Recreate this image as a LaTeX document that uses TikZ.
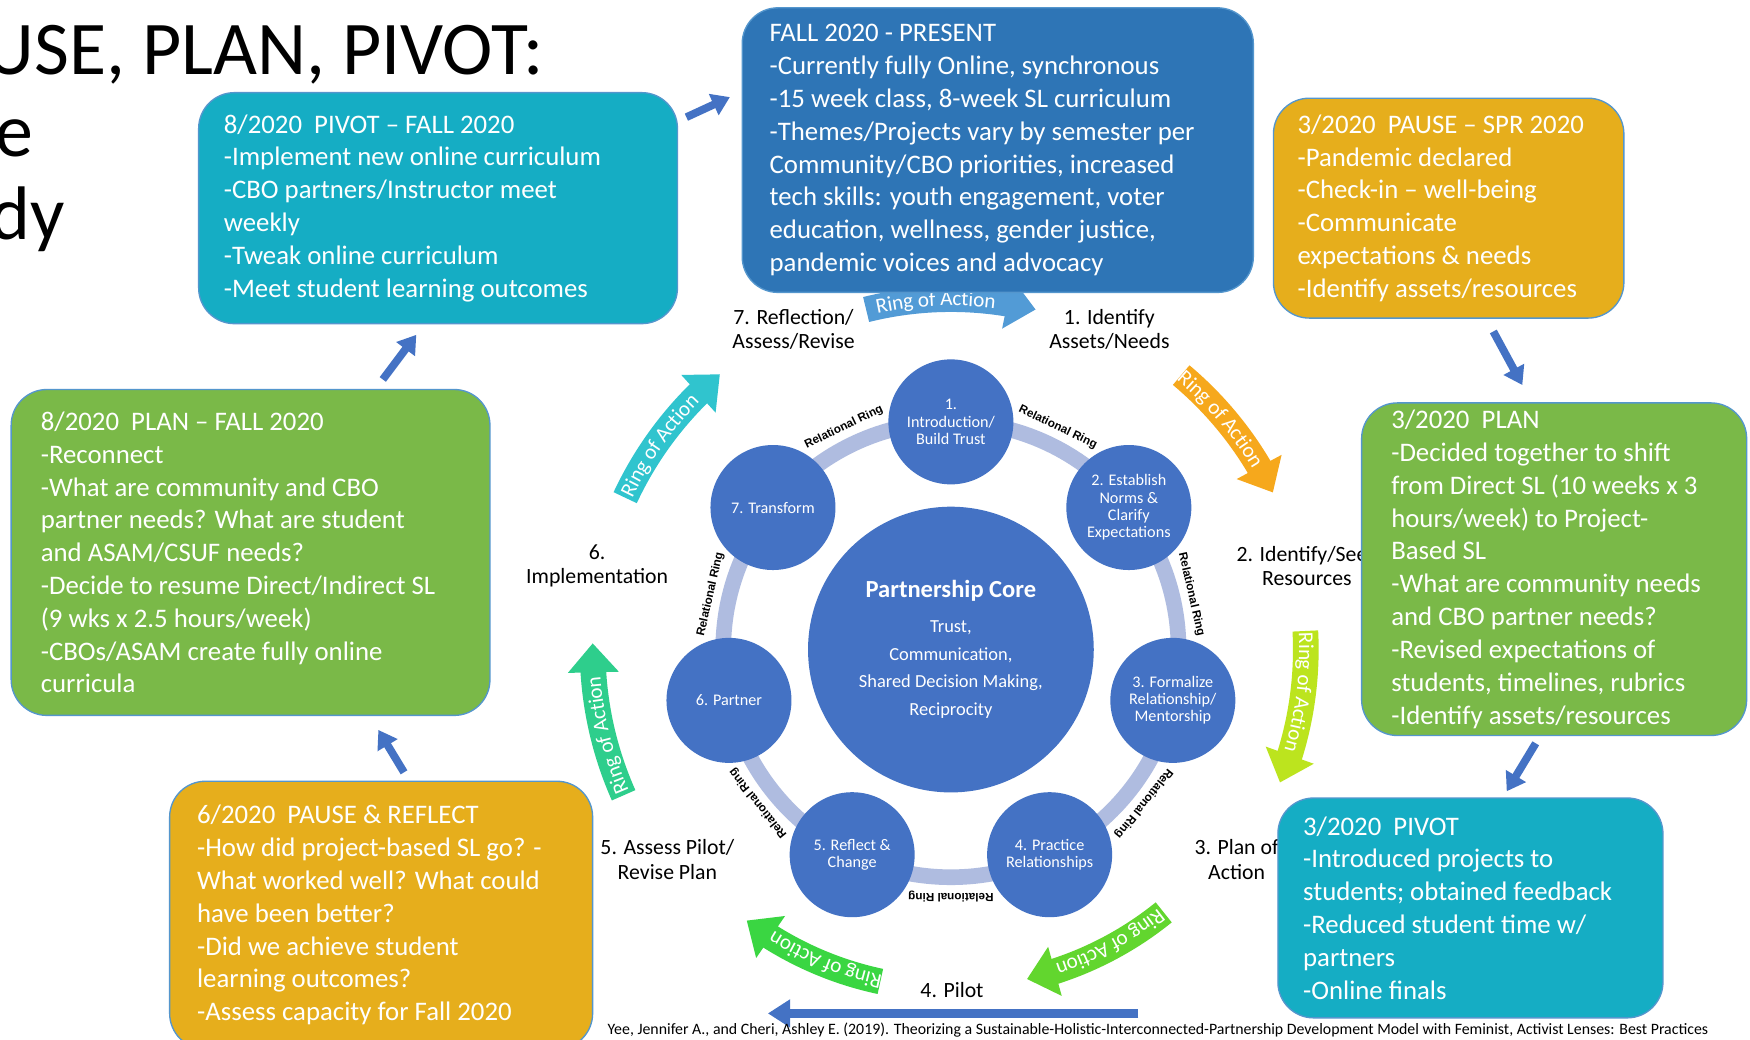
\documentclass[tikz,border=0pt]{standalone}
\usepackage{fontspec}
\setmainfont{Carlito}
\newfontfamily\ringfont{Liberation Sans}
\usetikzlibrary{arrows.meta,bending,positioning,decorations.text}

\definecolor{pivotteal}{RGB}{21,173,196}
\definecolor{presentblue}{RGB}{46,117,182}
\definecolor{pausegold}{RGB}{230,174,28}
\definecolor{plangreen}{RGB}{122,185,72}
\definecolor{boxedge}{RGB}{84,150,205}
\definecolor{coreblue}{RGB}{68,114,196}
\definecolor{ringgray}{RGB}{175,188,224}
\definecolor{actblue}{RGB}{82,155,214}
\definecolor{actorange}{RGB}{246,168,28}
\definecolor{actlime}{RGB}{188,228,30}
\definecolor{actgreen}{RGB}{98,214,46}
\definecolor{actgreenb}{RGB}{58,214,66}
\definecolor{actsea}{RGB}{46,206,140}
\definecolor{actteal}{RGB}{48,196,206}

\newcommand{\actfont}{\color{white}\fontsize{19}{19}\selectfont}
% one curved "Ring of Action" arrow: colour, radius, from angle, to angle
\newcommand{\ringact}[4]{
  \draw[ringarrow,#1] ([shift={(#3:#2)}]core.center) arc[start angle=#3, end angle=#4, radius=#2];
  \path[decorate,decoration={text along path,text align=center,raise=-6pt,
      text={|\actfont|Ring of Action}}]
    ([shift={(#3:#2)}]core.center) arc[start angle=#3, end angle=#4+5, radius=#2];
}

\tikzset{
  card/.style={draw=boxedge,line width=1.2pt,rounded corners=32pt},
  cardtext/.style={text=white,align=left,inner sep=0pt,font=\fontsize{24}{29.4}\selectfont},
  stage/.style={circle,fill=coreblue,minimum size=112pt,inner sep=0pt,text=white,align=center,
    font=\fontsize{14.5}{15.5}\selectfont},
  relring/.style={font=\ringfont\bfseries\fontsize{10.5}{10.5}\selectfont,inner sep=0pt},
  phase/.style={align=center,font=\fontsize{19.5}{22}\selectfont},
  ringband/.style={draw=ringgray,line width=14pt},
  ringarrow/.style={line width=23pt,-{Triangle[width=44pt,length=26pt]}},
  boxarrow/.style={draw=coreblue,line width=7pt,-{Triangle[width=20pt,length=16pt]}},
  titletext/.style={anchor=base east,inner sep=0pt,font=\fontsize{68}{74}\selectfont}
}

\begin{document}
\begin{tikzpicture}[x=1pt,y=1pt]
  \useasboundingbox (0,0) rectangle (1568,-931);
  \fill[white] (0,0) rectangle (1568,-931);

  % title, cut at the left edge
  \node[titletext] (title) at (487,-67) {USE, PLAN, PIVOT:};
  \node[titletext] (title2) at (30,-140) {e};
  \node[titletext] (title3) at (58,-215) {dy};

  % core and relational ring
  \node[circle,fill=coreblue,minimum size=256pt,inner sep=0pt,text=white,align=center,
    font=\fontsize{16.5}{25}\selectfont] (core) at (852,-582) {
    {\fontsize{22}{25}\selectfont\bfseries Partnership Core}\\[6pt]
    Trust,\\
    Communication,\\
    Shared Decision Making,\\
    Reciprocity
  };
  \draw[ringband] (core.center) circle[radius=204];

  \node[relring,rotate=25.7] (rr71) at ([shift={(115.7:221)}]core.center) {Relational Ring};
  \node[relring,rotate=-25.7] (rr12) at ([shift={(64.3:221)}]core.center) {Relational Ring};
  \node[relring,rotate=-77.1] (rr23) at ([shift={(12.9:221)}]core.center) {Relational Ring};
  \node[relring,rotate=-128.6] (rr34) at ([shift={(-38.6:221)}]core.center) {Relational Ring};
  \node[relring,rotate=180] (rr45) at ([shift={(-90:221)}]core.center) {Relational Ring};
  \node[relring,rotate=128.6] (rr56) at ([shift={(-141.4:221)}]core.center) {Relational Ring};
  \node[relring,rotate=77.1] (rr67) at ([shift={(167.1:221)}]core.center) {Relational Ring};

  \node[stage] (s1) at ([shift={(90:204)}]core.center) {1.\\Introduction/\\Build Trust};
  \node[stage] (s2) at ([shift={(38.6:204)}]core.center) {2. Establish\\Norms \&\\Clarify\\Expectations};
  \node[stage] (s3) at ([shift={(-12.9:204)}]core.center) {3. Formalize\\Relationship/\\Mentorship};
  \node[stage] (s4) at ([shift={(-64.3:204)}]core.center) {4. Practice\\Relationships};
  \node[stage] (s5) at ([shift={(-115.7:204)}]core.center) {5. Reflect \&\\Change};
  \node[stage] (s6) at ([shift={(-167.1:204)}]core.center) {6. Partner};
  \node[stage] (s7) at ([shift={(141.4:204)}]core.center) {7. Transform};

  % ring of action
  \ringact{actblue}{314}{104}{76}
  \ringact{actorange}{321}{50}{26}
  \ringact{actlime}{318}{3}{-22}
  \ringact{actgreen}{303}{-51}{-77}
  \ringact{actgreenb}{304}{-102}{-127}
  \ringact{actsea}{321}{204}{179}
  \ringact{actteal}{322}{155}{130}

  \node[phase] (ph7) at (711,-295) {7. Reflection/\\Assess/Revise};
  \node[phase] (ph1) at (994,-295) {1. Identify\\Assets/Needs};
  \node[phase] (ph2) at (1171,-507) {2. Identify/Seek\\Resources};
  \node[phase] (ph3) at (1108,-770) {3. Plan of\\Action};
  \node[phase] (ph4) at (853,-887) {4. Pilot};
  \node[phase] (ph5) at (598,-770) {5. Assess Pilot/\\Revise Plan};
  \node[phase] (ph6) at (535,-507) {6.\\Implementation};

  % timeline boxes
  \node[card,fill=pivotteal,minimum width=429pt,minimum height=207pt] (pivotfall) at (392.5,-186.5) {};
  \node[cardtext,right=23pt of pivotfall.west] (pivotfall-txt) {
    8/2020~~PIVOT – FALL 2020\\
    -Implement new online curriculum\\
    -CBO partners/Instructor meet\\
    weekly\\
    -Tweak online curriculum\\
    -Meet student learning outcomes};

  \node[card,fill=presentblue,minimum width=458pt,minimum height=255pt] (present) at (894,-134.5) {};
  \node[cardtext,right=25pt of present.west] (present-txt) {
    FALL 2020 - PRESENT\\
    -Currently fully Online, synchronous\\
    -15 week class, 8-week SL curriculum\\
    -Themes/Projects vary by semester per\\
    Community/CBO priorities, increased\\
    tech skills: youth engagement, voter\\
    education, wellness, gender justice,\\
    pandemic voices and advocacy};

  \node[card,fill=pausegold,minimum width=314pt,minimum height=197pt] (pausespr) at (1298,-186.5) {};
  \node[cardtext,right=22pt of pausespr.west] (pausespr-txt) {
    3/2020~~PAUSE – SPR 2020\\
    -Pandemic declared\\
    -Check-in – well-being\\
    -Communicate\\
    expectations \& needs\\
    -Identify assets/resources};

  \node[card,fill=plangreen,minimum width=345pt,minimum height=298pt] (planspr) at (1392.5,-510) {};
  \node[cardtext,right=27pt of planspr.west] (planspr-txt) {
    3/2020~~PLAN\\
    -Decided together to shift\\
    from Direct SL (10 weeks x 3\\
    hours/week) to Project-\\
    Based SL\\
    -What are community needs\\
    and CBO partner needs?\\
    -Revised expectations of\\
    students, timelines, rubrics\\
    -Identify assets/resources};

  \node[card,fill=pivotteal,minimum width=345pt,minimum height=197pt] (pivotspr) at (1317.5,-813.5) {};
  \node[cardtext,right=23pt of pivotspr.west] (pivotspr-txt) {
    3/2020~~PIVOT\\
    -Introduced projects to\\
    students; obtained feedback\\
    -Reduced student time w/\\
    partners\\
    -Online finals};

  \node[card,fill=plangreen,minimum width=429pt,minimum height=292pt] (planfall) at (224.5,-495) {};
  \node[cardtext,right=27pt of planfall.west] (planfall-txt) {
    8/2020~~PLAN – FALL 2020\\
    -Reconnect\\
    -What are community and CBO\\
    partner needs? What are student\\
    and ASAM/CSUF needs?\\
    -Decide to resume Direct/Indirect SL\\
    (9 wks x 2.5 hours/week)\\
    -CBOs/ASAM create fully online\\
    curricula};

  \node[card,fill=pausegold,minimum width=379pt,minimum height=240pt] (reflect) at (341.5,-820) {};
  \node[cardtext,right=25pt of reflect.west] (reflect-txt) {
    6/2020~~PAUSE \& REFLECT\\
    -How did project-based SL go? -\\
    What worked well? What could\\
    have been better?\\
    -Did we achieve student\\
    learning outcomes?\\
    -Assess capacity for Fall 2020};

  % arrows between boxes
  \coordinate (c2d-a) at (1338,-297);  \coordinate (c2d-b) at (1364,-345);
  \coordinate (d2e-a) at (1376,-666);  \coordinate (d2e-b) at (1350,-709);
  \coordinate (g2f-a) at (362,-692);   \coordinate (g2f-b) at (339,-654);
  \coordinate (f2a-a) at (343,-340);   \coordinate (f2a-b) at (373,-300);
  \coordinate (a2b-a) at (615,-105);   \coordinate (a2b-b) at (654,-87);
  \coordinate (pilot-a) at (1020,-908); \coordinate (pilot-b) at (688,-908);
  \draw[boxarrow] (c2d-a) -- (c2d-b);
  \draw[boxarrow] (d2e-a) -- (d2e-b);
  \draw[boxarrow] (g2f-a) -- (g2f-b);
  \draw[boxarrow] (f2a-a) -- (f2a-b);
  \draw[boxarrow] (a2b-a) -- (a2b-b);
  \draw[boxarrow,line width=8pt,-{Triangle[width=24pt,length=20pt]}] (pilot-a) -- (pilot-b);

  \node[font=\fontsize{14.2}{14.2}\selectfont,inner sep=0pt] (cite) at (1037.5,-923) {Yee, Jennifer A., and Cheri, Ashley E. (2019). Theorizing a Sustainable-Holistic-Interconnected-Partnership Development Model with Feminist, Activist Lenses: Best Practices};
\end{tikzpicture}
\end{document}
